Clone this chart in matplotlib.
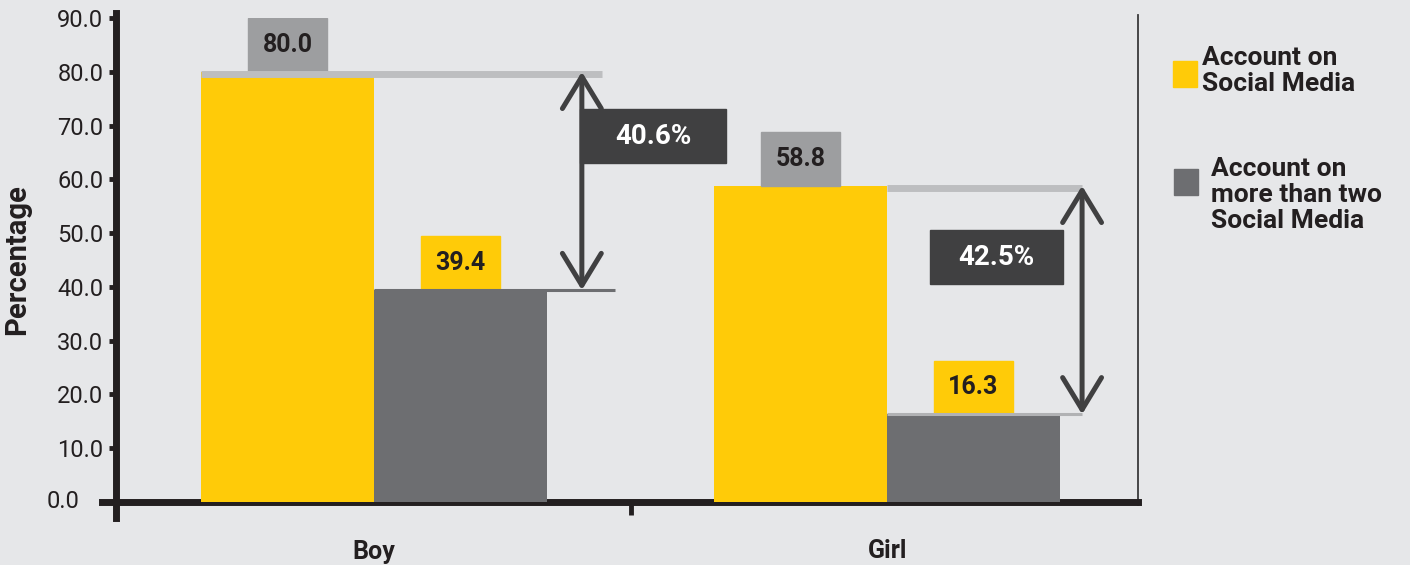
import numpy as np
import matplotlib
matplotlib.use("Agg")
import matplotlib.pyplot as plt
from matplotlib.patches import Rectangle

plt.rcParams["font.family"] = ["Roboto", "DejaVu Sans"]

# ── data ────────────────────────────────────────────────────────────────────
groups = ["Boy", "Girl"]
one_account = [80.0, 58.8]        # Account on Social Media
many_accounts = [39.4, 16.3]      # Account on more than two Social Media
series_names = ["Account on\nSocial Media", "Account on\nmore than two\nSocial Media"]
yticks = np.arange(0, 100, 10)

# ── style ───────────────────────────────────────────────────────────────────
BG = "#e6e7e9"
YELLOW = "#ffcb08"
GREY = "#6d6e71"
LIGHT_GREY = "#9d9ea0"
LINE_GREY = "#bdbec0"
DARK = "#404041"
INK = "#231f20"

W, H = 1410, 565
fig = plt.figure(figsize=(W / 100, H / 100), dpi=100, facecolor=BG)
ax = fig.add_axes([116 / W, 1 - 502 / H, (1138 - 116) / W, (502 - 18) / H])
ax.set_facecolor(BG)

x = np.arange(len(groups))
bw = 0.337
ax.bar(x - bw / 2, one_account, bw, color=YELLOW, zorder=2)
ax.bar(x + bw / 2, many_accounts, bw, color=GREY, zorder=2)

ax.set_xlim(-0.503, 1.489)
ax.set_ylim(0, 90)

# value tags sitting on top of each bar
tag_w = 0.154
for xi, v in zip(x - bw / 2, one_account):
    ax.add_patch(Rectangle((xi - tag_w / 2, v), tag_w, 10, color=LIGHT_GREY, zorder=3))
    ax.text(xi, v + 5, f"{v:.1f}", ha="center", va="center", fontsize=18,
            fontweight="bold", color=INK, zorder=4)
for xi, v in zip(x + bw / 2, many_accounts):
    ax.add_patch(Rectangle((xi - tag_w / 2, v), tag_w, 10, color=YELLOW, zorder=3))
    ax.text(xi, v + 5, f"{v:.1f}", ha="center", va="center", fontsize=18,
            fontweight="bold", color=INK, zorder=4)

# guide lines + double arrows showing the gap
arrow_x = [0.405, 1.380]
top_start = [-bw, 1.0]
top_end = [0.444, 1.380]
low_ends = [0.47, 1.38]
low_colors = [GREY, "#b1b2b4"]
gap_box = [(0.402, 63.0, 0.284), (1.083, 40.5, 0.260)]
for i in range(len(groups)):
    hi, lo = one_account[i], many_accounts[i]
    ax.plot([top_start[i], top_end[i]], [hi - 0.35, hi - 0.35],
            color=LINE_GREY, lw=5, solid_capstyle="butt", zorder=3)
    ax.plot([i, low_ends[i]], [lo, lo], color=low_colors[i], lw=2.2,
            solid_capstyle="butt", zorder=3)
    ax.annotate("", xy=(arrow_x[i], lo), xytext=(arrow_x[i], hi),
                arrowprops=dict(arrowstyle="<->,head_length=1.15,head_width=0.7",
                                mutation_scale=20, lw=3.6, color=DARK,
                                shrinkA=0, shrinkB=0), zorder=4)
    bx, by, bwid = gap_box[i]
    ax.add_patch(Rectangle((bx, by), bwid, 10, color=DARK, zorder=5))
    ax.text(bx + bwid / 2, by + 5, f"{hi - lo:.1f}%", ha="center", va="center",
            fontsize=20, fontweight="bold", color="white", zorder=6)

# axes frame
ax.spines["top"].set_visible(False)
ax.spines["left"].set_linewidth(5)
ax.spines["left"].set_color(INK)
ax.spines["left"].set_bounds(-3, 91)
ax.spines["bottom"].set_linewidth(5)
ax.spines["bottom"].set_color(INK)
ax.spines["bottom"].set_bounds(-0.53, 1.489)
ax.spines["right"].set_linewidth(1.3)
ax.spines["right"].set_color("#3a3a3a")
ax.spines["right"].set_bounds(-0.6, 90.5)
for sp in ax.spines.values():
    sp.set_zorder(1)

ax.set_yticks(yticks[1:])
ax.set_yticklabels([f"{t:.1f}" for t in yticks[1:]])
ax.tick_params(axis="y", length=5, width=3.5, color=INK, labelsize=17,
               labelcolor=INK, pad=4)
ax.text(-0.575, 0, f"{yticks[0]:.1f}", ha="right", va="center", fontsize=17,
        color=INK)

ax.set_xticks(x)
ax.set_xticklabels(groups, fontsize=18, fontweight="bold", color=INK)
ax.tick_params(axis="x", length=0, pad=27)
ax.set_xticks([0.5], minor=True)
ax.tick_params(axis="x", which="minor", length=9, width=3.5, color=INK)

ax.set_ylabel("Percentage", fontsize=21, fontweight="bold", color=INK)
ax.yaxis.set_label_coords(-0.083, 0.5)

# legend
def legend_item(sq_x, sq_y, txt_x, txt_y, color, label):
    fig.add_artist(Rectangle((sq_x / W, 1 - (sq_y + 26) / H), 24 / W, 26 / H,
                             color=color, transform=fig.transFigure))
    fig.text(txt_x / W, 1 - txt_y / H, label, ha="left", va="top", fontsize=19,
             fontweight="bold", color=INK, linespacing=1.1)

legend_item(1173, 61, 1202, 46, YELLOW, series_names[0])
legend_item(1174, 169, 1211, 157, GREY, series_names[1])

fig.savefig("out.png", dpi=100, facecolor=BG)
